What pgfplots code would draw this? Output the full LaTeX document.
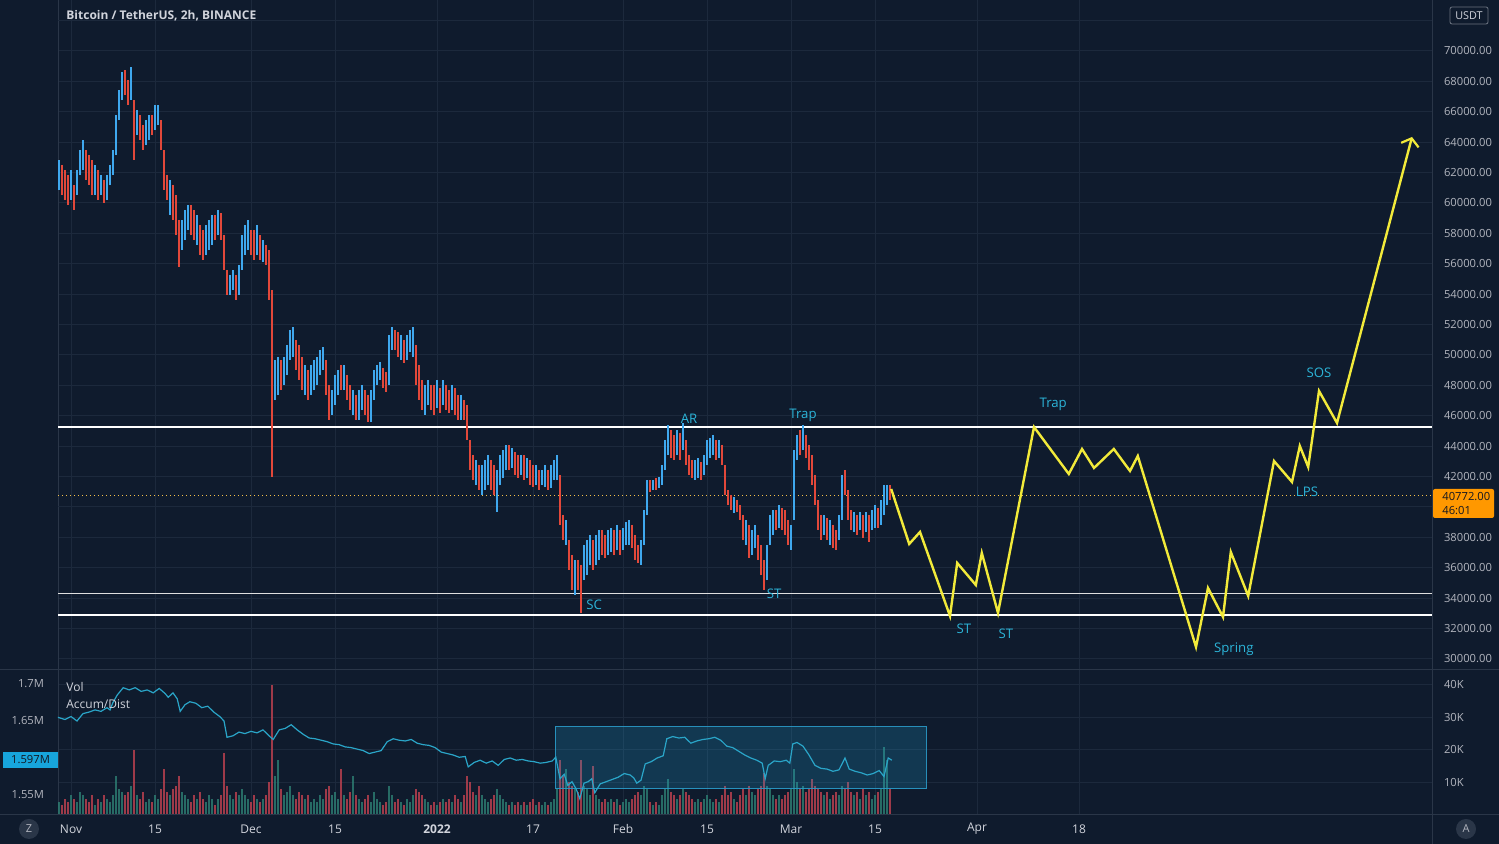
\documentclass[border=0pt]{standalone}
\usepackage{pgfplots}
\pgfplotsset{compat=1.18}
\usepackage{pgfplotstable}
\usetikzlibrary{arrows.meta}
\usepackage{fontspec}
\setmainfont{Open Sans}

\definecolor{bg}{HTML}{0F1B2D}
\definecolor{gridc}{HTML}{1C293C}
\definecolor{sepc}{HTML}{2A3648}
\definecolor{txt}{HTML}{B2B5BE}
\definecolor{ttl}{HTML}{D1D4DC}
\definecolor{upc}{HTML}{3FA8EE}
\definecolor{dnc}{HTML}{E2483A}
\definecolor{yel}{HTML}{F2EA3A}
\definecolor{cyantxt}{HTML}{2CB4D8}
\definecolor{adc}{HTML}{2AA5C8}
\definecolor{vup}{HTML}{2E7F73}
\definecolor{vdn}{HTML}{B8404F}
\definecolor{orng}{HTML}{FF9800}
\definecolor{dotc}{HTML}{F5C04A}
\definecolor{dark}{HTML}{131722}

\pgfplotstableread{
d lo hi c v
-2 60855 62829 1 4
-1.5 60526 62500 0 3
-1 60197 62171 0 5
-0.5 59868 61842 0 4
0 60197 62171 1 6
0.5 59539 61184 0 5
1 60526 62171 1 4
1.5 61842 63487 1 7
2 62171 64145 1 6
2.5 61513 63487 0 5
3 61184 63158 0 4
3.5 60526 62829 0 6
4 60526 62500 1 3
4.5 60197 62171 0 5
5 60526 61842 1 4
5.5 60000 61513 0 6
6 60197 61842 1 5
6.5 61184 62500 1 4
7 61842 63487 1 6
7.5 63158 65789 1 12
8 65461 67434 1 8
8.5 66776 68618 1 7
9 67105 68750 0 6
9.5 66447 68092 0 7
10 66776 68947 1 9
10.5 62829 66776 0 20
11 64474 66118 1 6
11.5 64145 65789 0 5
12 63487 65132 0 7
12.5 63816 65461 1 4
13 64145 65789 1 5
13.5 64474 65789 0 4
14 64803 66447 1 6
14.5 65132 66447 1 5
15 63487 65461 0 8
15.5 60855 63487 0 14
16 60197 61842 0 7
16.5 59211 61513 1 6
17 58882 61184 0 8
17.5 57895 60526 0 9
18 55789 58882 0 12
18.5 56908 58882 1 7
19 57566 59539 1 6
19.5 58224 59868 1 5
20 57895 59868 0 4
20.5 57566 59539 0 6
21 57237 59211 1 5
21.5 56579 58553 0 7
22 56250 58224 0 5
22.5 56579 58553 1 4
23 56908 58882 1 6
23.5 57237 59211 1 5
24 57566 59211 0 3
24.5 57895 59539 1 5
25 57566 59342 0 6
25.5 55592 57895 0 19
26 53947 55592 0 9
26.5 53947 55263 1 6
27 54276 55592 1 5
27.5 53618 55263 0 7
28 53947 55921 1 6
28.5 55592 57895 1 8
29 56579 58553 1 6
29.5 56908 58882 1 5
30 56579 58224 0 4
30.5 56250 58224 0 6
31 56579 58553 1 5
31.5 56250 57895 0 4
32 56118 57566 1 5
32.5 55921 57237 0 6
33 53618 56908 0 10
33.5 41974 54276 0 40
34 47039 49671 1 12
34.5 47368 49869 1 17
35 47697 49671 0 8
35.5 48026 49869 1 6
36 48684 50658 1 7
36.5 49671 51645 1 9
37 49869 51842 1 6
37.5 49013 50987 0 5
38 48355 50658 0 7
38.5 47697 49869 0 6
39 47368 49342 1 5
39.5 47039 49013 0 6
40 47368 49342 1 4
40.5 47697 49671 1 5
41 48026 49869 1 4
41.5 48684 50329 1 6
42 49013 50526 1 5
42.5 47368 49671 0 8
43 45724 48026 0 9
43.5 46053 47697 1 6
44 46711 48684 1 7
44.5 47368 49013 1 5
45 47697 49342 0 14
45.5 47697 49342 1 6
46 47039 48684 0 5
46.5 46382 48026 0 7
47 46053 47697 1 12
47.5 45724 47368 0 6
48 45724 47697 1 5
48.5 46382 48026 1 4
49 46053 47697 0 5
49.5 45592 47368 0 6
50 45592 47697 1 4
50.5 47039 49013 1 7
51 48026 49342 1 5
51.5 48355 49539 1 4
52 47829 49145 0 3
52.5 47566 48882 0 4
53 48026 51316 1 9
53.5 50329 51842 1 6
54 50329 51645 0 4
54.5 49869 51513 0 5
55 49671 51316 1 4
55.5 49474 50987 0 3
56 49671 51316 1 5
56.5 50197 51645 1 4
57 49869 51842 1 6
57.5 48026 50658 0 8
58 47039 49342 0 7
58.5 46382 48355 0 6
59 46053 48026 1 5
59.5 46711 48355 1 4
60 46382 48026 0 3
60.5 46053 48026 0 4
61 46513 48355 1 3
61.5 46184 47829 0 4
62 46711 48355 1 5
62.5 46382 48026 0 4
63 46184 47697 0 5
63.5 46382 48026 1 4
64 46053 47829 0 6
64.5 45724 47368 0 5
65 45724 47368 1 4
65.5 45724 47039 0 6
66 44408 46711 0 12
66.5 42434 44408 0 10
67 41776 43421 0 7
67.5 41447 43092 1 6
68 41118 42763 0 9
68.5 40790 42763 1 6
69 41118 43092 1 5
69.5 41447 43421 1 4
70 41118 43092 0 5
70.5 40790 42763 0 6
71 39671 42434 1 8
71.5 41447 43421 1 6
72 41908 43750 1 5
72.5 42434 44079 1 4
73 42434 44079 0 3
73.5 42566 43882 1 4
74 42105 43618 0 3
74.5 41908 43421 0 4
75 42105 43421 1 3
75.5 41776 43421 0 4
76 41908 43224 1 3
76.5 41447 43092 0 4
77 41316 42763 0 5
77.5 41447 42763 1 3
78 41118 42434 0 4
78.5 41447 42434 1 3
79 41316 42763 1 4
79.5 41118 42434 0 3
80 41250 42763 1 4
80.5 41776 43092 1 5
81 41776 43421 1 8
81.5 38816 42105 0 17
82 37829 39474 0 12
82.5 37500 39145 1 14
83 35855 37829 0 10
83.5 34539 36842 0 9
84 34211 36513 1 8
84.5 34539 36513 0 7
85 33026 36184 0 17
85.5 35197 37500 1 9
86 35526 37829 1 8
86.5 36184 38158 1 6
87 35855 37829 0 15
87.5 36184 38158 1 6
88 36513 38487 1 5
88.5 36842 38487 0 4
89 36645 38158 0 5
89.5 36842 38487 1 4
90 37039 38618 1 5
90.5 36842 38487 0 4
91 37171 38816 1 5
91.5 36842 38487 0 3
92 37171 38618 1 4
92.5 37500 39013 1 5
93 37500 39145 1 4
93.5 37303 38816 0 5
94 36513 38158 0 6
94.5 36316 37500 0 7
95 36184 37829 1 6
95.5 37500 39803 1 9
96 39474 41776 1 8
96.5 40987 41776 0 4
97 41118 41776 1 3
97.5 41118 41908 0 4
98 41250 41974 1 3
98.5 41447 42763 1 6
99 42434 44408 1 8
99.5 43421 45395 1 11
100 43224 45066 0 7
100.5 43092 44737 0 6
101 43421 45066 1 5
101.5 43092 44868 0 6
102 43750 45526 1 8
102.5 42763 44408 0 7
103 42105 43421 0 6
103.5 41908 43092 0 5
104 41776 43092 1 4
104.5 41908 43224 1 5
105 41776 42961 0 4
105.5 42105 43421 1 5
106 42763 44408 1 6
106.5 43224 44540 1 5
107 43421 44737 1 4
107.5 43092 44408 0 5
108 43224 44408 1 4
108.5 42763 44079 0 6
109 40790 42763 0 9
109.5 40132 41118 0 6
110 39803 40790 0 7
110.5 39605 40658 1 5
111 39671 40461 0 4
111.5 39145 40132 0 6
112 37829 39474 0 8
112.5 37500 39145 1 6
113 36645 38816 0 9
113.5 36842 38487 1 7
114 37303 38816 1 6
114.5 36513 38158 0 8
115 35526 37500 0 9
115.5 34539 36513 0 13
116 35197 37500 1 9
116.5 37500 39474 1 8
117 38158 39803 1 6
117.5 38487 39803 0 5
118 38618 40132 1 6
118.5 38487 39934 0 5
119 38158 39803 0 6
119.5 37500 39145 0 7
120 37171 38816 1 8
120.5 39145 43750 1 14
121 43092 44737 1 10
121.5 43421 45066 0 8
122 43750 45395 1 9
122.5 43224 44737 0 7
123 42434 44079 0 8
123.5 41447 43421 0 11
124 40132 42105 0 9
124.5 38487 40461 0 8
125 37829 39474 0 7
125.5 38158 39474 1 6
126 37829 39276 0 7
126.5 37500 39145 1 5
127 37303 38816 0 6
127.5 37171 38487 0 7
128 37829 39474 1 6
128.5 39145 42105 1 9
129 40790 42434 0 8
129.5 39145 41118 0 10
130 38487 39803 0 7
130.5 38355 39671 1 6
131 38158 39474 0 7
131.5 38487 39671 1 5
132 37960 39474 0 8
132.5 38355 39671 1 6
133 37697 39474 0 7
133.5 38487 39803 1 5
134 38618 40132 1 6
134.5 38618 39934 0 7
135 38816 40461 1 8
135.5 39474 41447 1 21
136 40132 41447 1 17
136.5 40461 41447 0 8
}\candles

\pgfplotstableread{
d a
-2.2 1.655
-1 1.652
0 1.656
1 1.650
2 1.660
3 1.662
4 1.665
5 1.663
6 1.668
6.5 1.665
7 1.675
7.7 1.685
8.7 1.695
9.7 1.692
10.7 1.695
11.7 1.690
12.7 1.692
13.7 1.688
14.7 1.694
15.7 1.687
16.2 1.682
17 1.688
17.7 1.680
18.2 1.663
19 1.672
19.8 1.676
20.8 1.674
21.8 1.668
22.8 1.670
23.8 1.662
24.8 1.656
25.5 1.650
26 1.628
27 1.630
28 1.635
29 1.633
30 1.636
31 1.634
32 1.638
33 1.630
33.7 1.625
34.7 1.638
35.7 1.640
36.7 1.645
37.7 1.638
38.7 1.632
39.7 1.627
40.7 1.626
41.7 1.624
42.7 1.622
43.7 1.619
44.7 1.618
45.7 1.615
46.7 1.614
47.7 1.612
48.7 1.610
49.7 1.606
50.7 1.608
51.7 1.610
52.7 1.622
53.7 1.626
54.7 1.624
55.7 1.623
56.7 1.625
57.7 1.620
58.7 1.618
59.7 1.617
60.7 1.614
61.7 1.608
62.7 1.606
63.7 1.604
64.7 1.601
65.7 1.602
66.2 1.588
67.2 1.594
68.2 1.597
69.2 1.593
70.2 1.596
71.2 1.590
72.2 1.598
73.2 1.600
74.2 1.597
75.2 1.598
76.2 1.596
77.2 1.595
78.2 1.593
79.2 1.594
80.2 1.596
80.8 1.601
81.5 1.572
82.2 1.578
82.8 1.563
83.5 1.568
84.2 1.558
84.8 1.545
85.5 1.566
86.2 1.568
86.8 1.572
87.3 1.553
88.2 1.565
89.2 1.568
90.2 1.571
91.2 1.574
92.2 1.579
93.2 1.577
93.8 1.573
94.3 1.566
95 1.570
95.7 1.592
96.7 1.595
97.7 1.600
98.7 1.603
99.3 1.626
100.3 1.629
101.3 1.627
102.3 1.628
103.3 1.620
104.3 1.623
105.3 1.625
106.3 1.626
107.3 1.628
108.3 1.624
109.3 1.616
110.3 1.614
111.3 1.609
112.3 1.604
113.3 1.600
114.3 1.597
115.2 1.593
115.7 1.572
116.2 1.590
117.2 1.596
118.2 1.595
119.2 1.597
119.8 1.593
120.3 1.619
121 1.621
122 1.616
123 1.604
124 1.590
125 1.586
126 1.585
127 1.582
128 1.584
129 1.600
129.7 1.585
130.7 1.582
131.7 1.580
132.7 1.577
133.7 1.579
134.7 1.583
135.5 1.575
136.2 1.600
136.8 1.597
}\accdist

\pgfplotstableread{
d p
136.7 41184
139.7 37566
141.5 38355
146.5 32829
147.7 36316
150.8 34868
151.8 36974
154.5 33026
160.5 45263
166.3 42171
168.5 43816
170.5 42566
173.8 43816
176.5 42368
177.8 43355
187.5 30789
189.5 34671
192 32763
193.3 37039
196.2 34145
200.5 43026
203.5 41645
204.8 44013
206.2 42632
208 47632
211 45526
223.5 64342
}\projection

\begin{document}
\begin{tikzpicture}[font=\fontsize{6}{7}\selectfont]
\fill[bg] (0,0) rectangle (749.5pt,422pt);

% ---------- main price panel ----------
\begin{axis}[
  at={(29pt,87pt)}, anchor=south west,
  width=687pt, height=335pt, scale only axis,
  xmin=-2.1667, xmax=226.833,
  ymin=29276, ymax=73355,
  axis line style={sepc, line width=0.5pt},
  xtick={0,14,30,44,61,77,92,106,120,134,151,168},
  xticklabels={},
  ytick={30000,32000,34000,36000,38000,42000,44000,46000,48000,50000,52000,54000,56000,58000,60000,62000,64000,66000,68000,70000},
  extra y ticks={40000,72000},
  extra y tick labels={},
  extra y tick style={grid=major},
  xmajorgrids, ymajorgrids,
  grid style={gridc, line width=0.5pt},
  major tick length=0pt,
  yticklabel pos=right,
  scaled y ticks=false,
  yticklabel={\pgfmathprintnumber[fixed,fixed zerofill,precision=2,1000 sep={},assume math mode=true]{\tick}},
  yticklabel style={font=\fontsize{5.6}{6}\selectfont, text=txt, anchor=west, xshift=2.5pt},
  clip=true,
]
\addplot[white, line width=0.8pt] coordinates {(-2.1667,45270) (226.833,45270)};
\addplot[white!75!gray, line width=0.55pt] coordinates {(-2.1667,34300) (226.833,34300)};
\addplot[white, line width=0.8pt] coordinates {(-2.1667,32895) (226.833,32895)};
\addplot[dotc, line width=0.75pt, dash pattern=on 0.7pt off 1.3pt] coordinates {(-2.1667,40772) (226.833,40772)};

\addplot[upc, line width=1.05pt, quiver={u=0, v=\thisrow{hi}-\thisrow{lo}},
  x filter/.expression={\thisrow{c}==1 ? x : nan}] table[x=d, y=lo] {\candles};
\addplot[dnc, line width=1.05pt, quiver={u=0, v=\thisrow{hi}-\thisrow{lo}},
  x filter/.expression={\thisrow{c}==0 ? x : nan}] table[x=d, y=lo] {\candles};

\addplot[yel, line width=1.2pt, line join=miter,
  -{Straight Barb[length=3.5pt,width=9pt,line width=1.1pt]}] table[x=d, y=p] {\projection};

\begin{scope}[every node/.style={text=cyantxt, font=\fontsize{6.6}{7}\selectfont}]
\node at (axis cs:87.2,33553) {SC};
\node at (axis cs:103,45790) {AR};
\node at (axis cs:122,46053) {Trap};
\node at (axis cs:117.2,34276) {ST};
\node at (axis cs:148.8,31974) {ST};
\node at (axis cs:155.8,31645) {ST};
\node at (axis cs:163.7,46776) {Trap};
\node at (axis cs:193.8,30658) {Spring};
\node at (axis cs:206,40987) {LPS};
\node at (axis cs:208,48816) {SOS};
\end{scope}
\end{axis}

% ---------- volume panel ----------
\begin{axis}[
  at={(29pt,14.5pt)}, anchor=south west,
  width=687pt, height=72.5pt, scale only axis,
  xmin=-2.1667, xmax=226.833,
  ymin=0, ymax=44.615,
  axis line style={sepc, line width=0.5pt},
  xtick={0,14,30,44,61,77,92,106,120,134,151,168},
  xticklabels={Nov,15,Dec,15,\textbf{2022},17,Feb,15,Mar,15,Apr,18},
  xticklabel style={font=\fontsize{6}{7}\selectfont, text=ttl, anchor=center, yshift=-7pt},
  ytick={10,20,30,40},
  yticklabels={10K,20K,30K,40K},
  yticklabel pos=right,
  yticklabel style={font=\fontsize{5.6}{6}\selectfont, text=txt, anchor=west, xshift=2.5pt},
  xmajorgrids, ymajorgrids,
  grid style={gridc, line width=0.5pt},
  major tick length=0pt,
]
\addplot[vup, opacity=0.8, line width=1.3pt, ycomb, mark=none,
  x filter/.expression={\thisrow{c}==1 ? x : nan}] table[x=d, y=v] {\candles};
\addplot[vdn, opacity=0.85, line width=1.3pt, ycomb, mark=none,
  x filter/.expression={\thisrow{c}==0 ? x : nan}] table[x=d, y=v] {\candles};
\end{axis}

% ---------- Accum/Dist ----------
\begin{axis}[
  at={(29pt,14.5pt)}, anchor=south west,
  width=687pt, height=72.5pt, scale only axis,
  xmin=-2.1667, xmax=226.833,
  ymin=1.52297, ymax=1.71892,
  axis line style={draw=none},
  xtick=\empty,
  ytick={1.55,1.65,1.7},
  yticklabels={1.55M,1.65M,1.7M},
  yticklabel pos=left,
  yticklabel style={font=\fontsize{5.6}{6}\selectfont, text=txt, anchor=east, xshift=-3.5pt},
  major tick length=0pt,
]
\addplot[fill=cyan!70!teal, fill opacity=0.22, draw=cyan!60!teal, draw opacity=0.9, line width=0.5pt]
  coordinates {(80.67,1.5581) (142.5,1.5581) (142.5,1.6419) (80.67,1.6419)} --cycle;
\addplot[adc, line width=0.6pt] table[x=d, y=a] {\accdist};
\end{axis}

% ---------- frame lines ----------
\draw[sepc, line width=0.5pt] (0,87pt) -- (749.5pt,87pt);
\draw[sepc, line width=0.5pt] (0,14.5pt) -- (749.5pt,14.5pt);
\draw[sepc, line width=0.5pt] (716pt,0) -- (716pt,422pt);

% ---------- texts and boxes ----------
\node[anchor=west, text=ttl, font=\fontsize{6}{7}\selectfont\bfseries, inner sep=0pt] at (33pt,414pt) {Bitcoin / TetherUS, 2h, BINANCE};
\node[anchor=west, text=ttl, font=\fontsize{6}{7}\selectfont, inner sep=0pt] at (33pt,78.5pt) {Vol};
\node[anchor=west, text=ttl, font=\fontsize{6}{7}\selectfont, inner sep=0pt] at (33pt,70pt) {Accum/Dist};

\fill[cyan!80!teal] (1.5pt,38pt) rectangle (29pt,46pt);
\node[text=dark, font=\fontsize{5.6}{6}\selectfont, inner sep=0pt] at (15.25pt,42pt) {1.597M};

\fill[orng, rounded corners=1pt] (716.5pt,163pt) rectangle (747pt,177.5pt);
\node[anchor=west, text=dark, font=\fontsize{5.6}{6}\selectfont, inner sep=0pt] at (721pt,173.5pt) {40772.00};
\node[anchor=west, text=dark, font=\fontsize{5.6}{6}\selectfont, inner sep=0pt] at (721pt,166.5pt) {46:01};

\filldraw[fill=bg, draw=sepc!70!white, rounded corners=1pt, line width=0.4pt] (725pt,410pt) rectangle (744pt,418.5pt);
\node[text=ttl, font=\fontsize{5.4}{6}\selectfont, inner sep=0pt] at (734.5pt,414.25pt) {USDT};

\fill[sepc] (14.5pt,7.5pt) circle (5pt);
\node[text=txt, font=\fontsize{5.5}{6}\selectfont, inner sep=0pt] at (14.5pt,7.5pt) {Z};
\fill[sepc] (733pt,7.5pt) circle (5pt);
\node[text=txt, font=\fontsize{5.5}{6}\selectfont, inner sep=0pt] at (733pt,7.5pt) {A};

\pgfresetboundingbox
\path (0,0) rectangle (749.5pt,422pt);
\end{tikzpicture}
\end{document}
